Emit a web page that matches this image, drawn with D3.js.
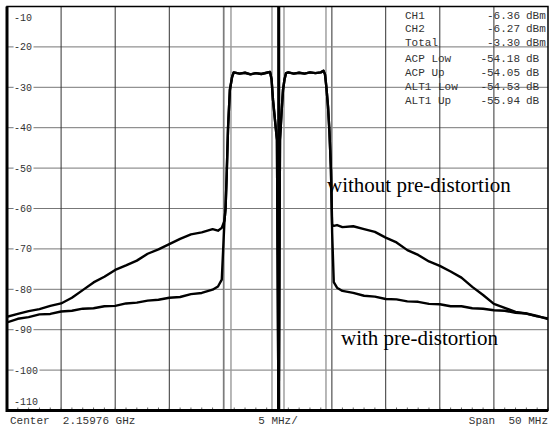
<!DOCTYPE html>
<html>
<head>
<meta charset="utf-8">
<script src="https://cdn.jsdelivr.net/npm/d3@7"></script>
<style>
  body { margin: 0; background: #fff; }
  svg { display: block; }
  text { white-space: pre; }
</style>
</head>
<body>
<div id="app"></div>
<script>
// level axis (dBm) and frequency grid (MHz offset from center)
const yTicks = [-10, -20, -30, -40, -50, -60, -70, -80, -90, -100, -110]
const xGrid = [-20, -15, -10, -5, 0, 5, 10, 15, 20]

// channel marker lines (MHz)
const markerLines = [-4.94, -4.30, -0.51, 0.60, 4.48, 5.04]
const centerMarker = 0.14

// lower skirt
const freqLeft = [-25, -24, -23, -22, -21, -20, -19, -18, -17, -16, -15, -14, -13, -12, -11, -10, -9, -8, -7, -6, -5.5, -5.15]
const withoutLeft = [-86.8, -86.1, -85.4, -84.9, -84.1, -83.5, -82.1, -80.2, -78.3, -76.9, -75.2, -74.1, -72.9, -71.2, -70.1, -68.8, -67.5, -66.4, -65.9, -65.1, -65.5, -64.8]
const withLeft = [-88.2, -87.3, -86.9, -86.2, -86.1, -85.5, -85.3, -84.8, -84.7, -84.2, -84.1, -83.5, -83.3, -82.8, -82.6, -82.1, -81.9, -81.2, -80.9, -80.1, -79.3, -77.6]

// the two carriers (same for both traces)
const freqChannel = [-4.9, -4.8, -4.7, -4.57, -4.4, -4.2, -4.05, -3.5, -3.0, -2.5, -2.0, -1.5, -1.0, -0.69, -0.55, -0.42, -0.2, -0.05, 0.1, 0.23, 0.38, 0.51, 0.65, 0.79, 1.0, 1.5, 2.0, 2.5, 3.0, 3.5, 4.0, 4.25, 4.39, 4.52, 4.67, 4.8, 4.94]
const levelChannel = [-63, -60, -52, -40, -30.6, -27.5, -26.3, -26.6, -26.4, -26.8, -26.5, -26.7, -26.4, -26.2, -28, -33, -39, -43, -116, -43, -36, -30.6, -28, -26.5, -26.3, -26.6, -26.4, -26.6, -26.3, -26.5, -26.3, -25.9, -26.8, -30, -34.8, -41, -50.4]

// upper skirt
const freqRight = [5.05, 5.2, 5.5, 6, 7, 8, 9, 10, 11, 12, 13, 14, 15, 16, 17, 18, 19, 20, 21, 22, 23, 24, 25]
const withoutRight = [-64, -64.3, -64.1, -64.6, -64.4, -65.1, -65.8, -67.2, -68.4, -70.3, -71.5, -73.1, -74.2, -75.6, -77.1, -79.4, -81.4, -83.6, -84.6, -85.6, -86, -86.7, -87.2]
const withRight = [-66, -78.2, -79.6, -80.4, -80.9, -81.6, -81.8, -82.4, -82.5, -83, -83.1, -83.6, -83.7, -84.2, -84.2, -84.7, -84.8, -85.2, -85.3, -85.8, -86, -86.6, -87.4]

// measurement readout
const readLabels = ['CH1', 'CH2', 'Total', 'ACP Low', 'ACP Up', 'ALT1 Low', 'ALT1 Up']
const readValues = ['-6.36', '-6.27', '-3.30', '-54.18', '-54.05', '-54.53', '-55.94']
const readUnits = ['dBm', 'dBm', 'dBm', 'dB', 'dB', 'dB', 'dB']

const W = 550, H = 428
const pLeft = 7, pRight = 548, pTop = 6.5, pBottom = 410.5

const x = d3.scaleLinear().domain([-25, 25]).range([pLeft, pRight])
const y = d3.scaleLinear().domain([-110, -10]).range([pBottom, pTop])

const svg = d3.create('svg')
    .attr('width', W)
    .attr('height', H)
    .attr('viewBox', [0, 0, W, H])

svg.append('defs').append('clipPath')
    .attr('id', 'plot')
    .append('rect')
    .attr('x', pLeft).attr('y', pTop)
    .attr('width', pRight - pLeft).attr('height', pBottom - pTop)

const mono = '"Liberation Mono", "DejaVu Sans Mono", monospace'
const serif = '"Liberation Serif", "DejaVu Serif", serif'

// grid
svg.append('g')
    .selectAll('line')
    .data(yTicks.slice(1, -1))
    .join('line')
    .attr('x1', pLeft).attr('x2', pRight)
    .attr('y1', d => y(d)).attr('y2', d => y(d))
    .attr('stroke', '#777')
    .attr('stroke-width', 1)

svg.append('g')
    .selectAll('line')
    .data(xGrid)
    .join('line')
    .attr('x1', d => x(d)).attr('x2', d => x(d))
    .attr('y1', pTop).attr('y2', pBottom)
    .attr('stroke', '#333')
    .attr('stroke-width', 1)

// small minor ticks along the bottom edge, one per MHz
svg.append('g')
    .selectAll('line')
    .data(x.ticks(50))
    .join('line')
    .attr('x1', d => x(d)).attr('x2', d => x(d))
    .attr('y1', pBottom - 3).attr('y2', pBottom)
    .attr('stroke', '#666')
    .attr('stroke-width', 1)

// channel markers
svg.append('g')
    .selectAll('line')
    .data(markerLines)
    .join('line')
    .attr('x1', d => x(d)).attr('x2', d => x(d))
    .attr('y1', pTop).attr('y2', pBottom)
    .attr('stroke', '#999')
    .attr('stroke-width', 1.4)

svg.append('line')
    .attr('x1', x(centerMarker)).attr('x2', x(centerMarker))
    .attr('y1', pTop).attr('y2', pBottom)
    .attr('stroke', '#000')
    .attr('stroke-width', 2.5)

// traces
const line = d3.line()
    .x(d => x(d[0]))
    .y(d => y(d[1]))

const build = (l, r) => d3.zip(
    freqLeft.concat(freqChannel, freqRight),
    l.concat(levelChannel, r)
)

const traces = [build(withoutLeft, withoutRight), build(withLeft, withRight)]

svg.append('g')
    .attr('clip-path', 'url(#plot)')
    .selectAll('path')
    .data(traces)
    .join('path')
    .attr('d', line)
    .attr('fill', 'none')
    .attr('stroke', '#000')
    .attr('stroke-width', 2.4)
    .attr('stroke-linejoin', 'round')

// frame
svg.append('rect')
    .attr('x', pLeft).attr('y', pTop)
    .attr('width', pRight - pLeft).attr('height', pBottom - pTop)
    .attr('fill', 'none')
    .attr('stroke', '#000')
    .attr('stroke-width', 1.5)

svg.append('path')
    .attr('d', `M${pLeft},${pTop}V${pBottom}H${pRight}`)
    .attr('fill', 'none')
    .attr('stroke', '#000')
    .attr('stroke-width', 3)

// level labels
svg.append('g')
    .selectAll('text')
    .data(yTicks)
    .join('text')
    .attr('x', 14)
    .attr('y', d => Math.min(Math.max(y(d), 17), 401))
    .attr('dy', '0.35em')
    .text(d => d)
    .attr('font-family', mono)
    .attr('font-size', 10)
    .attr('fill', '#333')
    .attr('stroke', '#fff')
    .attr('stroke-width', 4)
    .attr('paint-order', 'stroke')

// readout table
const rowY = (d, i) => 18.5 + i * 13.9 + (i >= 3 ? 2 : 0)
const table = svg.append('g')
    .attr('font-family', mono)
    .attr('font-size', 11)
    .attr('fill', '#333')

table.selectAll('.lab')
    .data(readLabels)
    .join('text')
    .attr('class', 'lab')
    .attr('x', 405).attr('y', rowY)
    .text(d => d)

table.selectAll('.val')
    .data(readValues)
    .join('text')
    .attr('class', 'val')
    .attr('x', 520).attr('y', rowY)
    .attr('text-anchor', 'end')
    .text(d => d)

table.selectAll('.unit')
    .data(readUnits)
    .join('text')
    .attr('class', 'unit')
    .attr('x', 526).attr('y', rowY)
    .text(d => d)

// bottom annotation
const foot = svg.append('g')
    .attr('font-family', mono)
    .attr('font-size', 11)
    .attr('fill', '#333')

foot.append('text').attr('x', 10).attr('y', 424).text('Center  2.15976 GHz')
foot.append('text').attr('x', 278).attr('y', 424).attr('text-anchor', 'middle').text('5 MHz/')
foot.append('text').attr('x', 548).attr('y', 424).attr('text-anchor', 'end').text('Span  50 MHz')

// trace captions
svg.append('text')
    .attr('x', 327).attr('y', 192)
    .attr('font-family', serif)
    .attr('font-size', 21)
    .attr('fill', '#000')
    .text('without pre-distortion')

svg.append('text')
    .attr('x', 341).attr('y', 345)
    .attr('font-family', serif)
    .attr('font-size', 21)
    .attr('fill', '#000')
    .text('with pre-distortion')

d3.select('#app').append(() => svg.node())
</script>
</body>
</html>
